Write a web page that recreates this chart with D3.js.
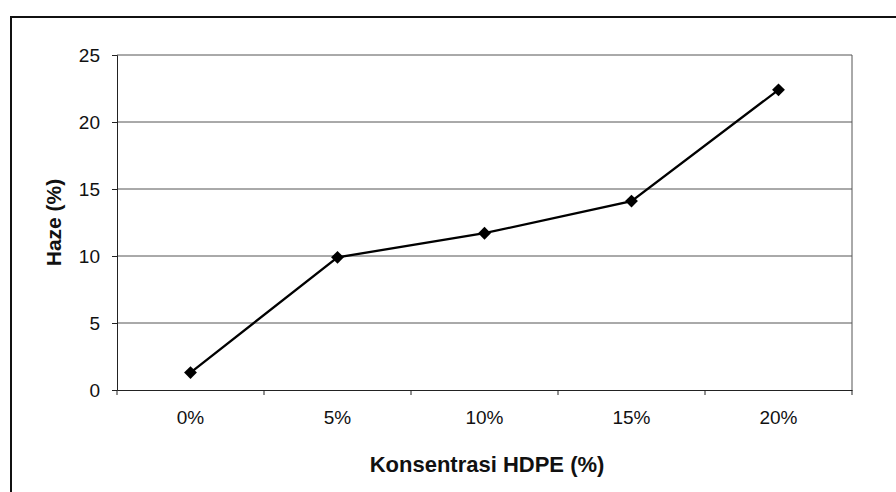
<!DOCTYPE html>
<html>
<head>
<meta charset="utf-8">
<script src="https://cdn.jsdelivr.net/npm/d3@7"></script>
<style>
	html, body { margin: 0; padding: 0; background: #fff; }
	svg { display: block; font-family: "Liberation Sans", Arial, sans-serif; }
</style>
</head>
<body>
<div id="chart"></div>
<script>
const categories = ['0%', '5%', '10%', '15%', '20%'];
const hazeValues = [1.3, 9.9, 11.7, 14.1, 22.4];
const yTicks = [0, 5, 10, 15, 20, 25];

const W = 896, H = 492;
const m = { top: 55, right: 44, bottom: 102, left: 117 };
const width = W - m.left - m.right,
	height = H - m.top - m.bottom;

const svg = d3.select('#chart').append('svg')
	.attr('width', W)
	.attr('height', H)
	.attr('viewBox', `0 0 ${W} ${H}`);

// outer frame (cut by the page edge on right/bottom)
svg.append('path')
	.attr('d', `M11,${H} V17 H${W}`)
	.attr('fill', 'none')
	.attr('stroke', '#111')
	.attr('stroke-width', 2);

const g = svg.append('g').attr('transform', `translate(${m.left},${m.top})`);

const x = d3.scaleBand().domain(categories).range([0, width]);
const y = d3.scaleLinear().domain([0, 25]).range([height, 0]);

// grid lines
g.append('g')
	.selectAll('line')
	.data(yTicks.filter(d => d > 0))
	.enter().append('line')
	.attr('x1', 0).attr('x2', width)
	.attr('y1', d => y(d)).attr('y2', d => y(d))
	.attr('stroke', '#555')
	.attr('stroke-width', 1);

// right border of plot area
g.append('line')
	.attr('x1', width).attr('x2', width)
	.attr('y1', 0).attr('y2', height)
	.attr('stroke', '#555');

// y axis
const yAxis = g.append('g')
	.call(d3.axisLeft(y).tickValues(yTicks).tickSize(5).tickPadding(12).tickFormat(d3.format('d')));
yAxis.select('.domain').attr('stroke', '#222');
yAxis.selectAll('.tick line').attr('stroke', '#222');
yAxis.selectAll('.tick text')
	.attr('font-size', 19)
	.attr('fill', '#111')
	.attr('font-family', '"Liberation Sans", Arial, sans-serif');

// x axis: ticks between categories
const xAxis = g.append('g')
	.attr('transform', `translate(0,${height})`)
	.call(d3.axisBottom(x).tickSize(0).tickPadding(21));
xAxis.select('.domain').attr('stroke', '#222');
xAxis.selectAll('.tick text')
	.attr('font-size', 19)
	.attr('fill', '#111')
	.attr('font-family', '"Liberation Sans", Arial, sans-serif');
xAxis.append('g')
	.selectAll('line')
	.data(d3.range(categories.length + 1))
	.enter().append('line')
	.attr('x1', i => i * x.bandwidth()).attr('x2', i => i * x.bandwidth())
	.attr('y1', 0).attr('y2', 5)
	.attr('stroke', '#222');

// line
const line = d3.line()
	.x((d, i) => x(categories[i]) + x.bandwidth() / 2)
	.y(d => y(d));

g.append('path')
	.datum(hazeValues)
	.attr('d', line)
	.attr('fill', 'none')
	.attr('stroke', '#000')
	.attr('stroke-width', 2.3);

g.selectAll('.dot')
	.data(hazeValues)
	.enter().append('path')
	.attr('class', 'dot')
	.attr('d', d3.symbol().type(d3.symbolDiamond2).size(105))
	.attr('transform', (d, i) => `translate(${x(categories[i]) + x.bandwidth() / 2},${y(d)})`)
	.attr('fill', '#000');

// axis titles
svg.append('text')
	.attr('transform', `translate(61,${m.top + height / 2}) rotate(-90)`)
	.attr('text-anchor', 'middle')
	.attr('font-size', 21)
	.attr('font-weight', 'bold')
	.attr('fill', '#111')
	.text('Haze (%)');

svg.append('text')
	.attr('x', 487)
	.attr('y', 472)
	.attr('text-anchor', 'middle')
	.attr('font-size', 22)
	.attr('font-weight', 'bold')
	.attr('fill', '#111')
	.text('Konsentrasi HDPE (%)');
</script>
</body>
</html>
